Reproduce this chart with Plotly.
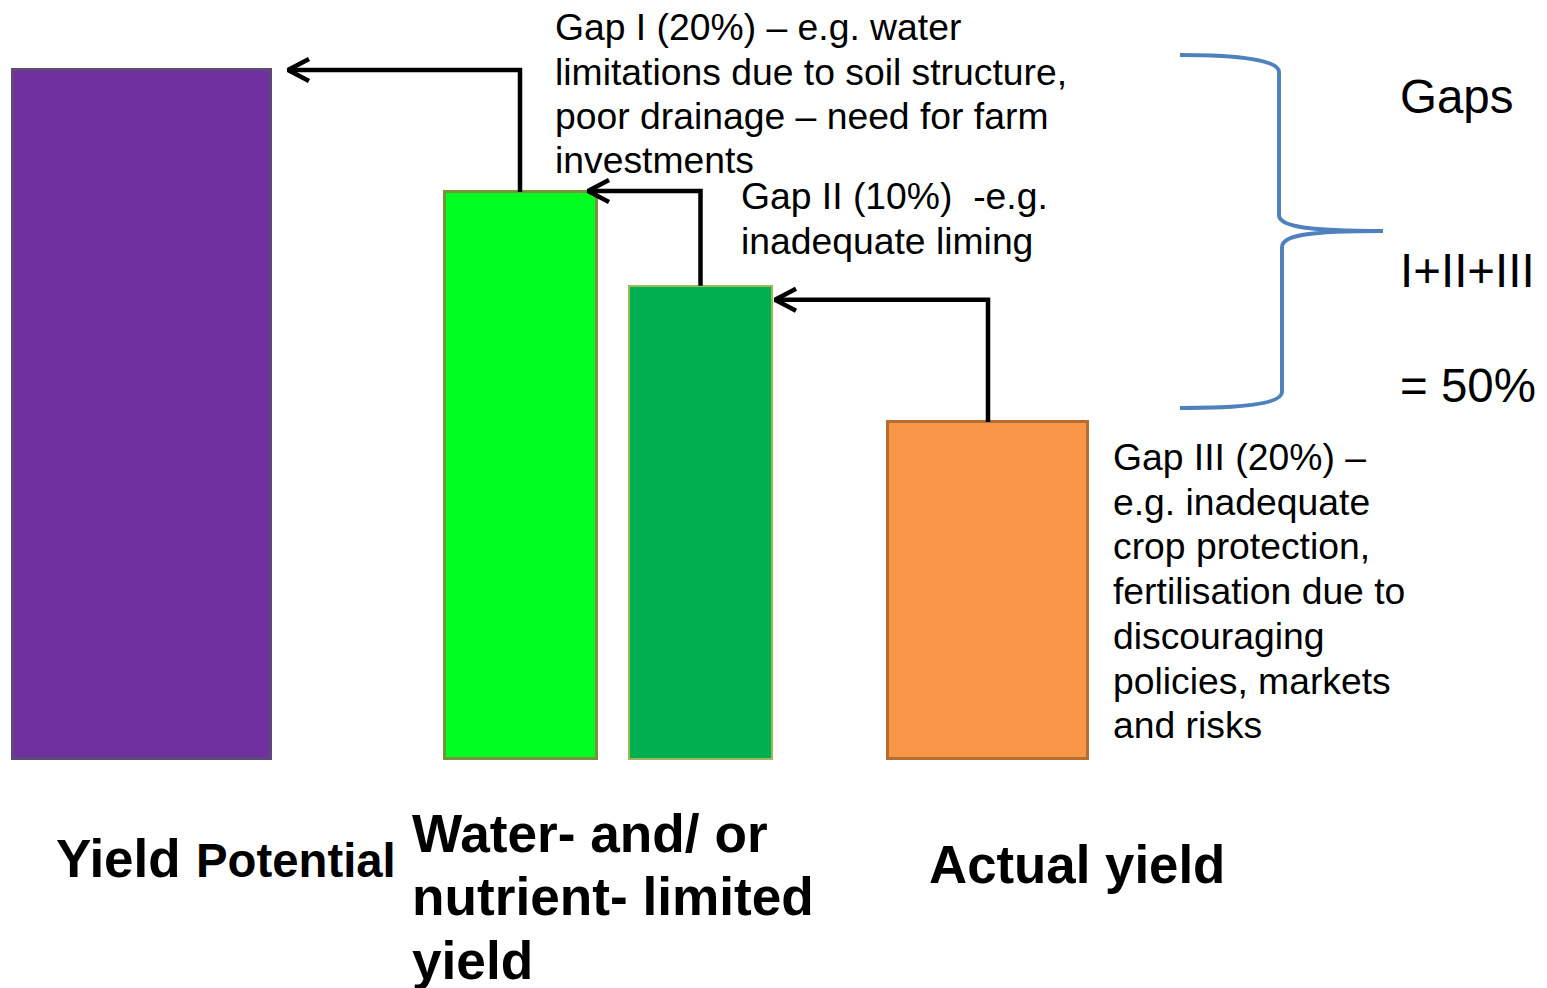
import plotly.graph_objects as go

# ---------------- data ----------------
categories = ["Yield Potential", "Water-limited yield", "Nutrient-limited yield", "Actual yield"]
yield_values = [100.0, 82.3, 68.7, 48.9]          # relative yield levels
gap_names = ["Gap I (20%)", "Gap II (10%)", "Gap III (20%)"]

label_lines = {
    "potential": ["Yield", "Potential"],
    "limited": ["Water- and/ or", "nutrient- limited", "yield"],
    "actual": ["Actual yield"],
}
gap1_lines = ["Gap I (20%) \u2013 e.g. water", "limitations due to soil structure,",
              "poor drainage \u2013 need for farm", "investments"]
gap2_lines = ["Gap II (10%)  -e.g.", "inadequate liming"]
gap3_lines = ["Gap III (20%) \u2013", "e.g. inadequate", "crop protection,",
              "fertilisation due to", "discouraging", "policies, markets", "and risks"]
total_lines = ["Gaps", "I+II+III", "= 50%"]

# ---------------- layout / style ----------------
W, H = 1547, 988
BASE_PX = 759
PXU = 6.89                     # pixels per yield unit
y_top = BASE_PX / PXU
y_bot = -(H - BASE_PX) / PXU

bar_x = [142, 521, 700.5, 988]
bar_w = [258, 152, 143, 200]
fills = ["#7030A0", "#00FF21", "#00B050", "#F79646"]
edges = ["#5F497A", "#77933C", "#9BBB59", "#B66D31"]
edge_w = [3, 3, 2, 3]

def px(d):
    return d / PXU

fig = go.Figure()
fig.add_trace(go.Bar(
    x=bar_x, y=yield_values, width=bar_w, base=0,
    marker=dict(color=fills, line=dict(color=edges, width=edge_w)),
    hovertext=categories, showlegend=False,
))

# elbow arrows: from bar i top, up to level, left to bar i-1
arrow_from = [1, 2, 3]
level_off_px = [0, -1, 14]
tip_off_px = [17, -9, 3]
AX, AY = 21, 11
lx, ly = [], []
hx, hy = [], []
for k, i in enumerate(arrow_from):
    src_x = bar_x[i] - (1 if i == 1 else 0)
    src_y = yield_values[i]
    lvl = yield_values[i - 1] - px(level_off_px[k])
    tip = bar_x[i - 1] + bar_w[i - 1] / 2 + tip_off_px[k]
    lx += [src_x, src_x, tip, None]
    ly += [src_y, lvl, lvl, None]
    hx += [tip + AX, tip, tip + AX, None]
    hy += [lvl + px(AY), lvl, lvl - px(AY), None]
fig.add_trace(go.Scatter(x=lx, y=ly, mode="lines", line=dict(color="black", width=4.5),
                         showlegend=False, hoverinfo="skip"))
fig.add_trace(go.Scatter(x=hx, y=hy, mode="lines", line=dict(color="black", width=4.5),
                         showlegend=False, hoverinfo="skip"))

# brace (pixel path converted to data coords)
def Y(p):
    return (BASE_PX - p) / PXU

brace = (f"M 1180,{Y(55)} C 1240,{Y(55)} 1279,{Y(60)} 1279,{Y(72)} "
         f"L 1279,{Y(215)} C 1279,{Y(227)} 1310,{Y(231)} 1383,{Y(231)} "
         f"C 1310,{Y(231)} 1282,{Y(235)} 1282,{Y(247)} "
         f"L 1282,{Y(392)} C 1282,{Y(404)} 1240,{Y(408)} 1180,{Y(408)}")
fig.add_shape(type="path", path=brace, xref="x", yref="y",
              line=dict(color="#4F81BD", width=4))

# text
BODY = "Liberation Sans, Arial, sans-serif"
def txt(x, ypx, s, size, bold=False):
    fig.add_annotation(x=x / W, y=1 - ypx / H, xref="paper", yref="paper",
                       text=f"<b>{s}</b>" if bold else s, showarrow=False,
                       xanchor="left", yanchor="middle",
                       font=dict(family=BODY, size=size, color="black"))

for j, s in enumerate(gap1_lines):
    txt(553, 27 + 44.5 * j, s, 37.3)
for j, s in enumerate(gap2_lines):
    txt(739, 196 + 45 * j, s, 37.3)
for j, s in enumerate(gap3_lines):
    txt(1111, 457 + 44.7 * j, s, 37.3)
for s, ypx in zip(total_lines, [97, 270, 385]):
    txt(1398, ypx, s, 47.5)

txt(54, 858, label_lines["potential"][0], 53, True)
txt(194, 860, label_lines["potential"][1], 47.3, True)
for j, s in enumerate(label_lines["limited"]):
    txt(410, 833 + 63.5 * j, s, 53.2, True)
txt(927, 864, label_lines["actual"][0], 52.8, True)

fig.update_layout(
    width=W, height=H, margin=dict(l=0, r=0, t=0, b=0),
    paper_bgcolor="white", plot_bgcolor="white",
    xaxis=dict(range=[0, W], visible=False, fixedrange=True),
    yaxis=dict(range=[y_bot, y_top], visible=False, fixedrange=True),
    bargap=0,
)
fig.write_html("out.html", config={"displayModeBar": False},
               post_script="document.body.style.margin='0';document.body.style.overflow='hidden';")
